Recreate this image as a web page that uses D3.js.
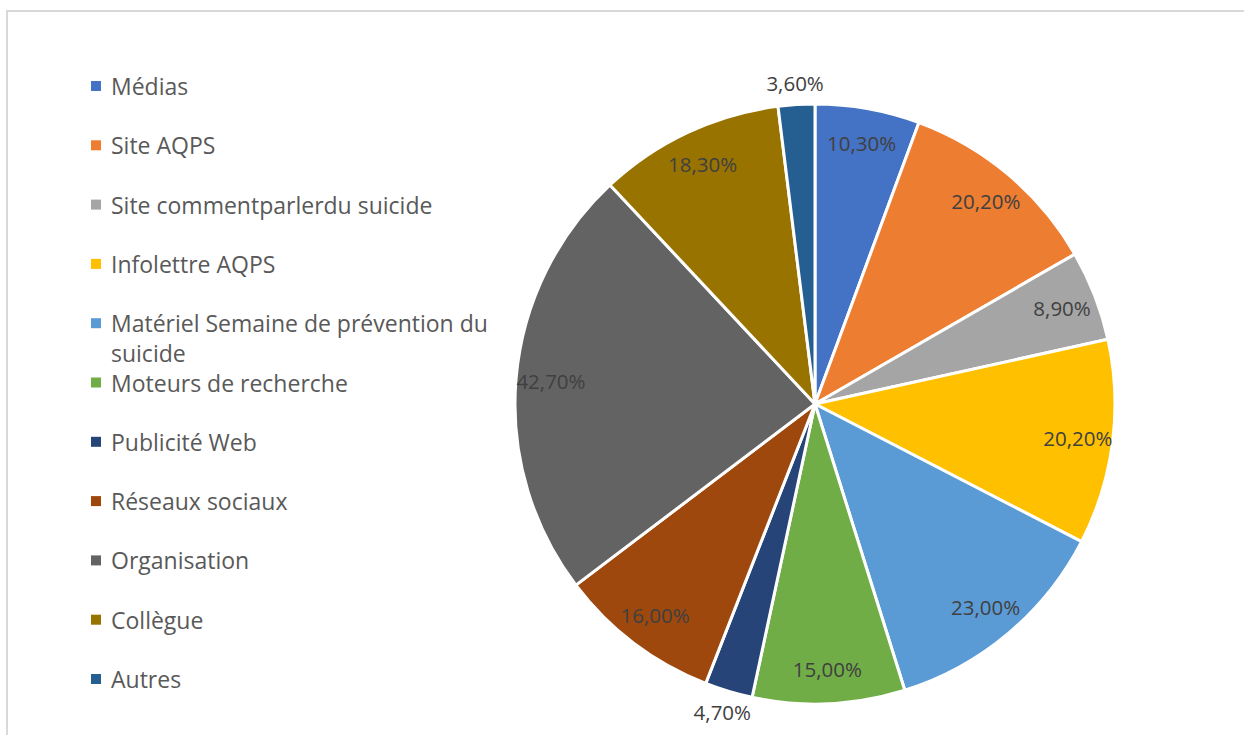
<!DOCTYPE html>
<html><head><meta charset="utf-8">
<script src="https://cdn.jsdelivr.net/npm/d3@7"></script>
<style>
html,body{margin:0;padding:0;background:#fff;}
svg{display:block;}
</style></head>
<body>
<svg id="chart" width="1244" height="735"></svg>
<script>
const categories = ["Médias","Site AQPS","Site commentparlerdu suicide","Infolettre AQPS","Matériel Semaine de prévention du suicide","Moteurs de recherche","Publicité Web","Réseaux sociaux","Organisation","Collègue","Autres"];
const values = [10.3, 20.2, 8.9, 20.2, 23.0, 15.0, 4.7, 16.0, 42.7, 18.3, 3.6];
const labels = ["10,30%","20,20%","8,90%","20,20%","23,00%","15,00%","4,70%","16,00%","42,70%","18,30%","3,60%"];
const colors = ["#4472C4","#ED7D31","#A5A5A5","#FFC000","#5B9BD5","#70AD47","#264478","#9E480E","#636363","#997300","#255E91"];

const svg = d3.select("#chart");
const font = "'Open Sans', 'Noto Sans', sans-serif";

// chart border
svg.append("rect").attr("x",7).attr("y",11).attr("width",1250).attr("height",740)
  .attr("fill","none").attr("stroke","#d9d9d9").attr("stroke-width",2);

const cx = 815, cy = 404, R = 300;
const color = d3.scaleOrdinal().domain(categories).range(colors);
const pie = d3.pie().sort(null).value(d => d.v);
const data = categories.map((c,i) => ({c, v: values[i], l: labels[i]}));
const arcs = pie(data);
const arc = d3.arc().innerRadius(0).outerRadius(R);

const g = svg.append("g").attr("transform",`translate(${cx},${cy})`);
g.selectAll("path").data(arcs).join("path")
  .attr("d", arc).attr("fill", d => color(d.data.c))
  .attr("stroke","#fff").attr("stroke-width",3).attr("stroke-linejoin","round");

const inLabel = d3.arc().innerRadius(265).outerRadius(265);
const outLabel = d3.arc().innerRadius(322).outerRadius(322);
g.selectAll("text.lab").data(arcs).join("text")
  .attr("class","lab")
  .attr("transform", d => {
    const p = (d.data.v < 6 ? outLabel : inLabel).centroid(d);
    return `translate(${p[0]},${p[1]})`;
  })
  .attr("text-anchor","middle").attr("dominant-baseline","central")
  .attr("font-family",font).attr("font-size",20.5).attr("fill","#404040")
  .text(d => d.data.l);

// legend
const lx = 91, ly0 = 86, step = 59.3, maxW = 400;
const leg = svg.append("g");
let y = ly0;
categories.forEach((c,i) => {
  const row = leg.append("g");
  row.append("rect").attr("x",lx).attr("y",y-5).attr("width",10).attr("height",10).attr("fill",colors[i]);
  const t = row.append("text").attr("x",lx+20).attr("y",y).attr("dominant-baseline","central")
    .attr("font-family",font).attr("font-size",23).attr("fill","#595959");
  const words = c.split(" ");
  let line = [], ts = t.append("tspan").attr("x",lx+20).attr("dy",0);
  words.forEach(w => {
    line.push(w);
    ts.text(line.join(" "));
    if (ts.node().getComputedTextLength() > maxW && line.length > 1) {
      line.pop(); ts.text(line.join(" "));
      line = [w];
      ts = t.append("tspan").attr("x",lx+20).attr("dy",30).text(w);
    }
  });
  y += step;
});
</script>
</body></html>
